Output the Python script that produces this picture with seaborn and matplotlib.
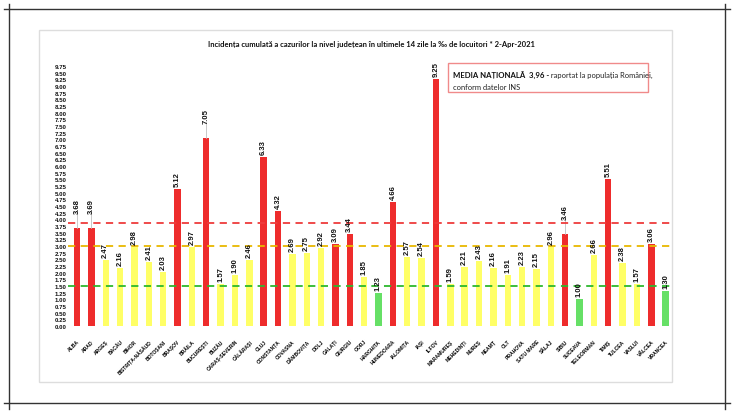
import matplotlib
matplotlib.use("Agg")
import matplotlib.pyplot as plt
import seaborn as sns
import pandas as pd
from matplotlib.patches import Rectangle
from matplotlib.lines import Line2D

counties = ["ALBA", "ARAD", "ARGEȘ", "BACĂU", "BIHOR", "BISTRIȚA-NĂSĂUD", "BOTOȘANI",
            "BRAȘOV", "BRĂILA", "BUCUREȘTI", "BUZĂU", "CARAȘ-SEVERIN", "CĂLĂRAȘI", "CLUJ",
            "CONSTANȚA", "COVASNA", "DÂMBOVIȚA", "DOLJ", "GALAȚI", "GIURGIU", "GORJ",
            "HARGHITA", "HUNEDOARA", "IALOMIȚA", "IAȘI", "ILFOV", "MARAMUREȘ", "MEHEDINȚI",
            "MUREȘ", "NEAMȚ", "OLT", "PRAHOVA", "SATU MARE", "SĂLAJ", "SIBIU", "SUCEAVA",
            "TELEORMAN", "TIMIȘ", "TULCEA", "VASLUI", "VÂLCEA", "VRANCEA"]
values = [3.68, 3.69, 2.47, 2.16, 2.98, 2.41, 2.03, 5.12, 2.97, 7.05, 1.57, 1.90, 2.46,
          6.33, 4.32, 2.69, 2.75, 2.92, 3.09, 3.44, 1.85, 1.23, 4.66, 2.57, 2.54, 9.25,
          1.59, 2.21, 2.43, 2.16, 1.91, 2.23, 2.15, 2.96, 3.46, 1.00, 2.66, 5.51, 2.38,
          1.57, 3.06, 1.30]
ref_red = 3.85
ref_yellow = 3.0
ref_green = 1.5
yticks = [i * 0.25 for i in range(40)]
title = "Incidența cumulată a cazurilor la nivel județean în ultimele 14 zile la ‰ de locuitori * 2-Apr-2021"
note_bold = "MEDIA NAȚIONALĂ  3,96 -"
note_rest = " raportat la populația României,"
note_line2 = "conform datelor INS"
leader_counties = ["ALBA", "ARAD", "BUCUREȘTI", "SIBIU"]

RED = "#EE2C2C"
YEL = "#FFFF66"
GRN = "#66E066"
colors = [RED if v > 3 else (GRN if v <= 1.5 else YEL) for v in values]

FONT = ["Lato", "DejaVu Sans"]
NUMFONT = ["Liberation Sans", "DejaVu Sans"]
plt.rcParams["font.family"] = FONT

df = pd.DataFrame({"county": counties, "value": values})

fig = plt.figure(figsize=(7.35, 4.14), dpi=100)
ax = fig.add_axes([68.4 / 735, 87 / 414, 601.6 / 735, 260 / 414])

sns.barplot(data=df, x="county", y="value", hue="county", palette=colors,
            legend=False, width=0.45, ax=ax, saturation=1)

ax.set_xlim(-0.6, 41.3)
ax.set_ylim(0, 9.75)
for s in ax.spines.values():
    s.set_visible(False)
ax.set_xlabel("")
ax.set_ylabel("")
ax.set_yticks(yticks)
ax.set_yticklabels([f"{t:.2f}" for t in yticks], fontsize=4.4, fontweight="bold",
                   color="#111111", family=NUMFONT)
ax.tick_params(axis="both", length=0, pad=1.5)
ax.set_xticks(range(len(counties)))
ax.set_xticklabels(counties, rotation=45, ha="right", rotation_mode="anchor",
                   fontsize=3.6, fontweight="bold", color="#000000", family=NUMFONT)
ax.tick_params(axis="x", pad=9)

ax.axhline(ref_red, color="#EE3B3B", lw=1.3, ls=(0, (4, 3)), zorder=3)
ax.axhline(ref_yellow, color="#E8B800", lw=1.3, ls=(0, (4, 3)), zorder=3)
ax.axhline(ref_green, color="#2DB82D", lw=1.3, ls=(0, (4, 3)), zorder=3)

pxu = 260 / 9.75
for i, (c, v) in enumerate(zip(counties, values)):
    off = 15 if c in leader_counties else 3
    if c in leader_counties:
        ax.plot([i, i], [v, v + off / pxu], color="#BFBFBF", lw=0.6, zorder=2)
    ax.text(i, v + off / pxu, f"{v:.2f}", rotation=90, ha="center", va="bottom",
            fontsize=5.5, fontweight="bold", color="#111111", family=NUMFONT)

# title
fig.text(0.506, (414 - 44) / 414, title, ha="center", va="center",
         fontsize=5.5, fontweight="bold", color="#111111")

# inner light frame
fig.add_artist(Rectangle((39 / 735, 31 / 414), 633 / 735, 352 / 414, transform=fig.transFigure,
                         fill=False, edgecolor="#DDDDDD", lw=1))
# outer frame lines
for xs, ys in [((4, 730), (10, 10)), ((4, 730), (404, 404)),
               ((9, 9), (5, 410)), ((725, 725), (5, 410))]:
    fig.add_artist(Line2D([x / 735 for x in xs], [(414 - y) / 414 for y in ys],
                          transform=fig.transFigure, color="#333333", lw=1))

# note box
fig.add_artist(Rectangle((448 / 735, (414 - 93) / 414), 200 / 735, 29 / 414,
                         transform=fig.transFigure, fill=True, facecolor="white",
                         edgecolor="#F08A8A", lw=1, zorder=5))
t1 = fig.text(453 / 735, (414 - 75) / 414, note_bold, ha="left", va="center",
              fontsize=5.6, fontweight="bold", color="#111111", zorder=6)
fig.canvas.draw()
bb = t1.get_window_extent()
fig.text(bb.x1 / 735, (414 - 75) / 414, note_rest, ha="left", va="center",
         fontsize=5.4, color="#222222", zorder=6)
fig.text(453 / 735, (414 - 87) / 414, note_line2, ha="left", va="center",
         fontsize=5.4, color="#222222", zorder=6)

fig.savefig("out.png", dpi=100)
